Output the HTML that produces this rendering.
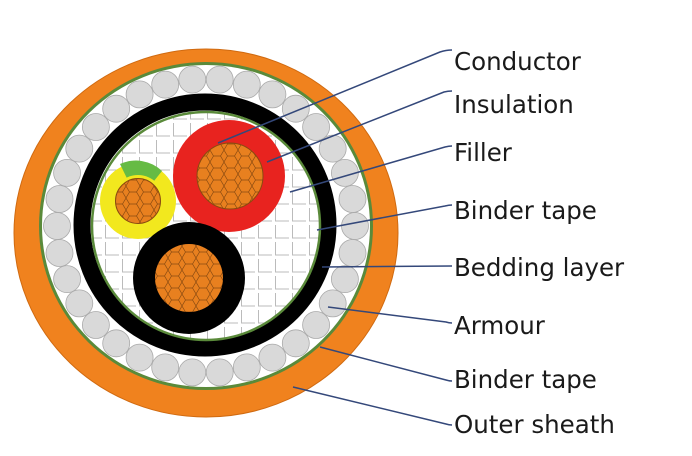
<!DOCTYPE html>
<html><head><style>
html,body{margin:0;padding:0;background:#fff;width:692px;height:456px;overflow:hidden}
text{font-family:"DejaVu Sans","Liberation Sans",sans-serif;font-size:24.5px;fill:#1a1a1a}
</style></head><body>
<svg width="692" height="456" viewBox="0 0 692 456" xmlns="http://www.w3.org/2000/svg">
<defs>
<pattern id="g" width="17" height="17" patternUnits="userSpaceOnUse" x="3" y="2">
<rect width="17" height="17" fill="#fff"/>
<path d="M0.5 2 V15 H14" fill="none" stroke="#bbb" stroke-width="1"/>
</pattern>
<pattern id="cu" width="14" height="12" patternUnits="userSpaceOnUse">
<rect width="14" height="12" fill="#e8801f"/>
<path d="M0 6 L3.5 0 H10.5 L14 6 L10.5 12 H3.5 Z" fill="none" stroke="#8a4a10" stroke-width="0.7"/>
</pattern>
</defs>
<ellipse cx="206" cy="233" rx="192" ry="184" fill="#f0821e" stroke="#d06a10" stroke-width="1"/>
<ellipse cx="206" cy="226" rx="167" ry="164" fill="#5a8a3a"/>
<ellipse cx="206" cy="226" rx="164" ry="161" fill="#fff"/>
<g fill="#d9d9d9" stroke="#aaa" stroke-width="0.8" id="wires"></g>
<circle cx="205" cy="225" r="123" fill="none" stroke="#000" stroke-width="17"/>
<circle cx="206" cy="226" r="114" fill="url(#g)" stroke="#5a8a3a" stroke-width="2.5"/>
<circle cx="229" cy="176" r="56" fill="#e8231f"/>
<circle cx="230" cy="176" r="33" fill="url(#cu)" stroke="#8a4a10"/>
<circle cx="138" cy="201" r="38" fill="#f2e81e"/>
<path d="M138 201 L120 164 A38 38 0 0 1 162 171 Z" fill="#66bb44"/>
<circle cx="138" cy="201" r="26" fill="#f2e81e"/>
<circle cx="138" cy="201" r="22.5" fill="url(#cu)" stroke="#8a4a10"/>
<circle cx="189" cy="278" r="56" fill="#000"/>
<circle cx="189" cy="278" r="34" fill="url(#cu)"/>
<g stroke="#34487a" stroke-width="1.5" fill="none">
<path d="M218 143 L440 52 Q446 50 452 50"/>
<path d="M267 162 L444 92 Q448 91 452 91"/>
<path d="M290 192 L445 147 Q449 146 452 146"/>
<path d="M317 230 L445 206 Q449 205 452 205"/>
<path d="M322 267 L452 266"/>
<path d="M328 307 L446 322 Q449 323 452 323"/>
<path d="M320 347 L446 380 Q449 381 452 381"/>
<path d="M293 387 L446 424 Q449 425 452 425"/>
</g>
<text x="454" y="70">Conductor</text>
<text x="454" y="113">Insulation</text>
<text x="454" y="161">Filler</text>
<text x="454" y="219">Binder tape</text>
<text x="454" y="276">Bedding layer</text>
<text x="454" y="334">Armour</text>
<text x="454" y="388">Binder tape</text>
<text x="454" y="433">Outer sheath</text>
</svg>
<script>
var g=document.getElementById('wires'),n=34,s='';
for(var i=0;i<n;i++){var a=i*2*Math.PI/n;var x=206+149*Math.cos(a),y=226+147*Math.sin(a);
s+='<circle cx="'+x.toFixed(1)+'" cy="'+y.toFixed(1)+'" r="13.5"/>';}
g.innerHTML=s;
</script>
</body></html>
